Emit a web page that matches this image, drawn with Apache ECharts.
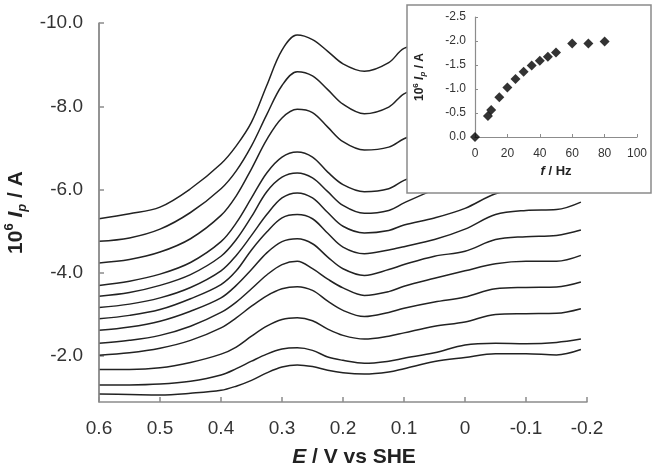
<!DOCTYPE html>
<html>
<head>
<meta charset="utf-8">
<script src="https://cdn.jsdelivr.net/npm/echarts@6/dist/echarts.min.js"></script>
<style>
html, body { margin: 0; padding: 0; background: #fff; }
#chart { width: 656px; height: 469px; }
</style>
</head>
<body>
<div id="chart"></div>
<script>
// potential axis (V vs SHE), shared by every sweep
var energy = [0.6, 0.55, 0.5, 0.45, 0.4, 0.375, 0.35, 0.325, 0.3, 0.275, 0.25, 0.225, 0.2, 0.165, 0.125, 0.1, 0.05, 0, -0.05, -0.1, -0.15, -0.19];

// 10^6 Ip / A, one sweep per frequency (top to bottom)
var sweep1  = [-5.30, -5.42, -5.58, -6.02, -6.62, -7.05, -7.62, -8.50, -9.35, -9.71, -9.60, -9.32, -9.02, -8.84, -9.05, -9.39, -9.60, -9.75, -9.85, -9.90, -9.95, -10.0];
var sweep2  = [-4.76, -4.84, -5.05, -5.45, -6.02, -6.45, -7.05, -7.80, -8.50, -8.83, -8.73, -8.40, -8.05, -7.82, -7.98, -8.30, -8.60, -8.80, -8.95, -9.00, -9.05, -9.20];
var sweep3  = [-4.24, -4.32, -4.50, -4.82, -5.38, -5.85, -6.50, -7.20, -7.72, -7.93, -7.85, -7.50, -7.15, -6.95, -7.02, -7.22, -7.50, -7.75, -7.90, -7.95, -8.00, -8.15];
var sweep4  = [-3.70, -3.80, -3.97, -4.25, -4.75, -5.20, -5.80, -6.40, -6.78, -6.90, -6.78, -6.42, -6.12, -5.95, -6.02, -6.22, -6.50, -6.75, -6.90, -6.95, -7.00, -7.15];
var sweep5  = [-3.44, -3.53, -3.70, -3.96, -4.40, -4.80, -5.35, -5.95, -6.30, -6.40, -6.28, -5.95, -5.62, -5.43, -5.50, -5.68, -6.00, -6.25, -6.40, -6.45, -6.50, -6.65];
var sweep6  = [-3.17, -3.25, -3.40, -3.65, -4.05, -4.42, -4.90, -5.40, -5.80, -5.92, -5.80, -5.45, -5.12, -4.96, -5.02, -5.15, -5.32, -5.55, -5.90, -6.05, -6.10, -6.25];
var sweep7  = [-2.90, -2.98, -3.12, -3.38, -3.72, -4.05, -4.55, -4.98, -5.32, -5.40, -5.30, -4.95, -4.62, -4.46, -4.55, -4.63, -4.80, -5.05, -5.40, -5.50, -5.52, -5.70];
var sweep8  = [-2.62, -2.70, -2.84, -3.08, -3.40, -3.70, -4.08, -4.48, -4.75, -4.82, -4.70, -4.38, -4.10, -3.94, -4.08, -4.20, -4.40, -4.52, -4.80, -4.87, -4.90, -5.03];
var sweep9  = [-2.31, -2.38, -2.50, -2.72, -3.05, -3.30, -3.62, -3.95, -4.20, -4.28, -4.10, -3.85, -3.64, -3.46, -3.55, -3.68, -3.87, -4.05, -4.22, -4.28, -4.28, -4.42];
var sweep10 = [-2.02, -2.08, -2.19, -2.38, -2.68, -2.92, -3.20, -3.45, -3.62, -3.67, -3.58, -3.32, -3.10, -2.95, -3.05, -3.15, -3.30, -3.42, -3.62, -3.65, -3.66, -3.78];
var sweep11 = [-1.68, -1.68, -1.72, -1.85, -2.05, -2.22, -2.48, -2.72, -2.88, -2.92, -2.85, -2.65, -2.50, -2.41, -2.48, -2.56, -2.72, -2.82, -3.00, -3.02, -3.03, -3.14];
var sweep12 = [-1.31, -1.31, -1.33, -1.40, -1.55, -1.70, -1.88, -2.05, -2.17, -2.20, -2.14, -1.98, -1.90, -1.83, -1.88, -1.95, -2.08, -2.27, -2.31, -2.30, -2.33, -2.41];
var sweep13 = [-1.09, -1.08, -1.07, -1.11, -1.18, -1.28, -1.42, -1.60, -1.74, -1.79, -1.75, -1.66, -1.60, -1.57, -1.62, -1.70, -1.87, -1.97, -2.06, -2.06, -2.03, -2.16];

// inset: peak current vs frequency
var freq = [0, 8, 10, 15, 20, 25, 30, 35, 40, 45, 50, 60, 70, 80];
var peak = [0, -0.44, -0.56, -0.83, -1.03, -1.21, -1.36, -1.49, -1.59, -1.67, -1.76, -1.95, -1.95, -1.99];

var sweeps = [sweep1, sweep2, sweep3, sweep4, sweep5, sweep6, sweep7, sweep8, sweep9, sweep10, sweep11, sweep12, sweep13];

var font = 'Liberation Sans';
var axisGray = '#8c8c8c';

// potential runs from 0.6 on the left to -0.2 on the right: the axis holds -E
var series = sweeps.map(function(s) {
    return {
        type: 'line',
        xAxisIndex: 0,
        yAxisIndex: 0,
        data: energy.map(function(e, j) { return [-e, s[j]]; }),
        smooth: 0.35,
        symbol: 'none',
        lineStyle: { color: '#222', width: 1.5 }
    };
});

series.push({
    type: 'scatter',
    xAxisIndex: 1,
    yAxisIndex: 1,
    z: 12,
    symbol: 'diamond',
    symbolSize: 10,
    itemStyle: { color: '#000' },
    data: freq.map(function(f, i) { return [f, peak[i]]; })
});

var myChart = echarts.init(document.getElementById('chart'));
var option = {
    animation: false,
    textStyle: { fontFamily: font },
    grid: [
        { left: 99, right: 69, top: 23, bottom: 67, containLabel: false, outerBoundsMode: 'none' },
        { left: 475, right: 19, top: 17, bottom: 332, z: 11, containLabel: false, outerBoundsMode: 'none' }
    ],
    graphic: [{
        type: 'rect',
        z: 10,
        shape: { x: 407, y: 5, width: 244, height: 188 },
        style: { fill: '#fff', stroke: '#8a8a8a', lineWidth: 1.5 }
    }, {
        // left frame line of the main plot
        type: 'line',
        z: 20,
        shape: { x1: 99, y1: 23, x2: 99, y2: 402 },
        style: { stroke: axisGray, lineWidth: 1.5 }
    }],
    xAxis: [{
        gridIndex: 0,
        type: 'value',
        position: 'bottom',
        min: -0.6,
        max: 0.2,
        interval: 0.1,
        splitLine: { show: false },
        axisLine: { onZero: false, lineStyle: { color: axisGray, width: 1.5 } },
        axisTick: { inside: true, length: 5, lineStyle: { color: axisGray, width: 1.5 } },
        axisLabel: {
            color: '#333', fontSize: 19, margin: 17, fontFamily: font,
            formatter: function(v) {
                var r = Math.round(-v * 10) / 10;
                return r === 0 ? '0' : String(r);
            }
        },
        name: '{i|E} / V vs SHE',
        nameLocation: 'middle',
        nameGap: 45,
        nameTextStyle: {
            color: '#222', fontSize: 21, fontWeight: 'bold', fontFamily: font,
            padding: [0, 0, 0, 22],
            rich: { i: { fontSize: 21, fontWeight: 'bold', fontStyle: 'italic', color: '#222', fontFamily: font } }
        }
    }, {
        gridIndex: 1,
        type: 'value',
        position: 'bottom',
        min: 0,
        max: 100,
        interval: 20,
        z: 11,
        splitLine: { show: false },
        axisLine: { onZero: false, lineStyle: { color: axisGray, width: 1.2 } },
        axisTick: { inside: true, length: 3, lineStyle: { color: axisGray } },
        axisLabel: { color: '#333', fontSize: 12, margin: 11, fontFamily: font },
        name: '{i|f} / Hz',
        nameLocation: 'middle',
        nameGap: 28,
        nameTextStyle: {
            color: '#222', fontSize: 13, fontWeight: 'bold', fontFamily: font,
            rich: { i: { fontSize: 13, fontWeight: 'bold', fontStyle: 'italic', color: '#222', fontFamily: font } }
        }
    }],
    yAxis: [{
        gridIndex: 0,
        type: 'value',
        position: 'left',
        min: -10,
        max: -0.9,
        interval: 2,
        inverse: true,
        splitLine: { show: false },
        axisLine: { show: true, onZero: false, lineStyle: { color: axisGray, width: 1.5 } },
        axisTick: { show: true, inside: true, length: 5, lineStyle: { color: axisGray, width: 1.5 } },
        axisLabel: {
            color: '#333', fontSize: 19, margin: 16, fontFamily: font,
            showMaxLabel: false,
            formatter: function(v) { return v.toFixed(1); }
        },
        name: '{t|10}{sup|6} {i|I}{sub|p}{t| / A}',
        nameLocation: 'middle',
        nameGap: 70,
        nameTextStyle: {
            color: '#222', fontSize: 21, fontWeight: 'bold', fontFamily: font,
            rich: {
                t: { fontSize: 21, fontWeight: 'bold', color: '#222', fontFamily: font, lineHeight: 26 },
                sup: { fontSize: 13, fontWeight: 'bold', color: '#222', fontFamily: font, verticalAlign: 'top', lineHeight: 14 },
                i: { fontSize: 21, fontWeight: 'bold', fontStyle: 'italic', color: '#222', fontFamily: font, lineHeight: 26 },
                sub: { fontSize: 13, fontWeight: 'bold', fontStyle: 'italic', color: '#222', fontFamily: font, verticalAlign: 'bottom', lineHeight: 14 }
            }
        }
    }, {
        gridIndex: 1,
        type: 'value',
        position: 'left',
        min: -2.5,
        max: 0,
        interval: 0.5,
        inverse: true,
        z: 11,
        splitLine: { show: false },
        axisLine: { show: true, onZero: false, lineStyle: { color: axisGray, width: 1.2 } },
        axisTick: { show: true, inside: true, length: 3, lineStyle: { color: axisGray } },
        axisLabel: {
            color: '#333', fontSize: 12, margin: 9, fontFamily: font,
            formatter: function(v) { return v.toFixed(1); }
        },
        name: '{t|10}{sup|6} {i|I}{sub|p}{t| / A}',
        nameLocation: 'middle',
        nameGap: 48,
        nameTextStyle: {
            color: '#222', fontSize: 12, fontWeight: 'bold', fontFamily: font,
            rich: {
                t: { fontSize: 12, fontWeight: 'bold', color: '#222', fontFamily: font, lineHeight: 15 },
                sup: { fontSize: 8, fontWeight: 'bold', color: '#222', fontFamily: font, verticalAlign: 'top', lineHeight: 9 },
                i: { fontSize: 12, fontWeight: 'bold', fontStyle: 'italic', color: '#222', fontFamily: font, lineHeight: 15 },
                sub: { fontSize: 8, fontWeight: 'bold', fontStyle: 'italic', color: '#222', fontFamily: font, verticalAlign: 'bottom', lineHeight: 9 }
            }
        }
    }],
    series: series
};
myChart.setOption(option);
</script>
</body>
</html>
